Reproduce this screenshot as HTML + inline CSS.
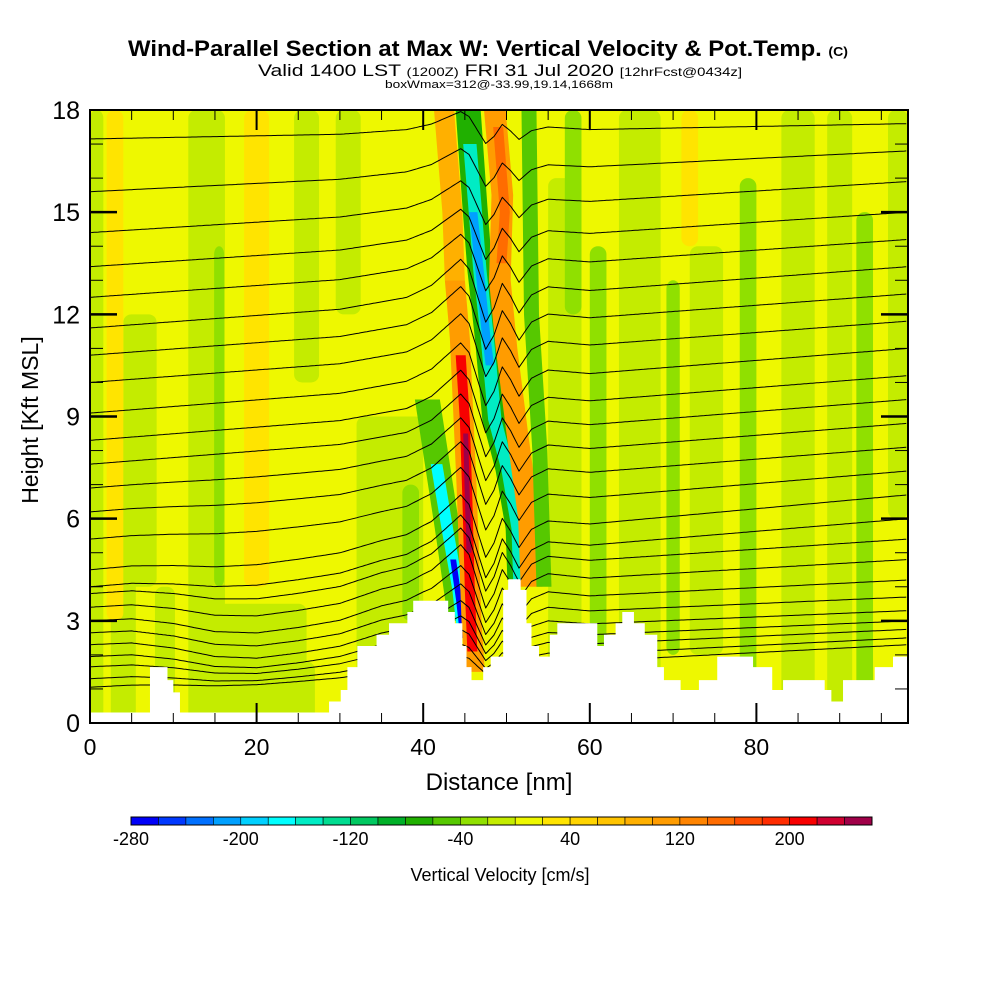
<!DOCTYPE html>
<html><head><meta charset="utf-8"><style>html,body{margin:0;padding:0;background:#fff}svg{display:block}text{font-family:"Liberation Sans",sans-serif}</style></head>
<body>
<svg id="chart" width="1000" height="1000" viewBox="0 0 1000 1000" xmlns="http://www.w3.org/2000/svg">
<defs><clipPath id="plotclip"><rect x="90" y="110" width="818" height="613"/></clipPath></defs>
<g>
<text x="488" y="56" text-anchor="middle" font-size="22" font-weight="bold" textLength="720" lengthAdjust="spacingAndGlyphs">Wind-Parallel Section at Max W: Vertical Velocity &amp; Pot.Temp. <tspan font-size="13">(C)</tspan></text>
<text x="500" y="76" text-anchor="middle" font-size="17" textLength="484" lengthAdjust="spacingAndGlyphs">Valid 1400 LST <tspan font-size="12">(1200Z)</tspan> FRI 31 Jul 2020 <tspan font-size="12">[12hrFcst@0434z]</tspan></text>
<text x="499" y="88" text-anchor="middle" font-size="11" textLength="228" lengthAdjust="spacingAndGlyphs">boxWmax=312@-33.99,19.14,1668m</text>
</g>
<g id="field" clip-path="url(#plotclip)"></g>
<g id="contours" clip-path="url(#plotclip)"></g>
<g id="terrain" clip-path="url(#plotclip)"></g>
<g id="axes"></g>
<text x="38" y="420" text-anchor="middle" font-size="23" transform="rotate(-90 38 420)">Height [Kft MSL]</text>
<text x="499" y="790" text-anchor="middle" font-size="24">Distance [nm]</text>
<g id="colorbar"></g>
<text x="500" y="881" text-anchor="middle" font-size="18">Vertical Velocity [cm/s]</text>
</svg>
<script>
// ---- data ----
const cbColors = ["#0000f8","#0038ff","#0070ff","#00a0ff","#00d0ff","#00ffff","#00ecc4","#00dc90","#00c860","#00b028","#20b000","#56c800","#90e000","#c4ec00","#eef800","#ffe400","#ffd400","#ffc400","#ffb000","#ff9c00","#ff8400","#ff6c00","#ff4c00","#ff2c00","#f80000","#d00030","#a00048"];
const cbTickValues = [-280,-200,-120,-40,40,120,200];
const backgroundW = 10;
// patches: nm center, half width nm, bottom kft, top kft, w
const patchCenter = [0.8,4,6,14,15.5,9,20,24,36,38.5,26,31,57,61,66,70,74,79,85,90,93,97,20,3,58,72];
const patchHalf =   [0.8,1.5,2,2.2,0.6,1.2,6,3,4,1.0,1.5,1.5,2,1.0,2.5,0.8,2,1.0,2,1.5,1.0,1.2,1.5,1,1,1];
const patchBottom = [0,0,4,0,4,0,0,0,0,3,10,12,0,0,0,2,2,0,0,0,0,6,4,3,12,14];
const patchTop =    [18,9,12,18,14,4,3.5,1.8,9,7,18,18,16,14,18,13,14,16,18,18,15,18,18,18,18,18];
const patchW =      [-10,-10,-10,-10,-30,-10,-10,-10,-10,-30,-10,-10,-10,-30,-10,-30,-10,-30,-10,-10,-30,-10,30,30,-30,30];
// core bands: each a list of centerline [nm,kft] points, half width, w
const bandW =    [-60,-80,-160,-210,80,-180,-280,100,200,260,100,150,80,-60];
const bandHalf = [1.5,1.5,0.8,0.5,1.2,0.7,0.35,1.2,0.6,0.3,1.3,0.6,0.9,0.9];
const bandPts = [
 [[40.5,9.5],[42.9,5.7],[44.5,3]],
 [[45.4,18],[46.2,15.2],[46.8,13.3],[47.7,11.3],[48.6,8.9],[50.2,7.4],[51.4,5.7],[51.6,4.2]],
 [[45.6,17],[46.2,15.2],[46.8,13.3],[47.7,11.3],[48.6,8.9],[50.2,7.4],[51.4,5.7],[51.6,4.2]],
 [[46.0,15],[46.9,13],[47.5,11.5],[48.0,10.5]],
 [[42.5,18],[43.5,15],[43.8,13]],
 [[41.6,7.6],[42.9,5.7],[44.2,3.9],[44.7,2.8]],
 [[43.6,4.8],[44.3,3.6],[44.8,2.5]],
 [[43.8,13],[44.4,11.3],[45.2,7],[45.8,3],[46.2,1.5]],
 [[44.5,10.8],[45.0,8.9],[45.3,6.6],[45.6,3.9],[45.9,2.1]],
 [[45.1,8.5],[45.3,6.6],[45.5,5.0]],
 [[48.6,18],[49.5,15.5],[49.2,13],[50.0,11],[51.3,8.5],[52.7,6],[53.0,4]],
 [[49.0,17.5],[49.8,15],[49.4,13.5]],
 [[42.8,18],[43.6,15],[43.9,13]],
 [[52.7,18],[53,12],[54,8],[54.5,4]]
];
// terrain steps: start nm, height kft
const terrNm = [0,7.2,9.3,10.0,10.8,28.7,30.1,30.9,32.1,34.4,35.9,38.1,38.8,43.0,43.8,44.7,45.2,45.8,47.2,48.1,49.6,50.2,51.7,52.4,53.0,53.9,55.2,56.1,60.9,61.7,63.1,63.9,65.3,66.6,68.1,68.9,70.9,73.1,75.3,79.6,81.9,83.2,88.2,89.0,90.4,94.2,96.4];
const terrH  = [0.31,1.64,1.26,0.9,0.31,0.63,0.97,1.64,2.26,2.59,2.93,3.26,3.59,3.26,2.93,2.26,1.64,1.26,1.64,1.95,3.91,4.22,3.91,2.93,2.26,1.95,2.59,2.93,2.26,2.59,2.93,3.26,2.93,2.59,1.64,1.26,0.97,1.26,1.95,1.64,0.97,1.26,0.97,0.63,1.26,1.64,1.95];
// isentropes
const lineLeft  = [1.05,1.3,1.65,1.95,2.3,2.65,3.0,3.4,3.8,4.0,4.5,5.4,6.2,6.9,7.6,8.3,9.1,10.0,10.8,11.6,12.5,13.4,14.4,15.6,17.15];
const lineRight = [2.3,2.5,2.75,3.0,3.3,3.7,4.2,4.8,5.4,6.0,6.7,7.4,8.1,8.8,9.5,10.2,11.0,11.8,12.6,13.4,14.2,15.0,15.9,16.8,17.6];
const lineDip   = [0.3,0.5,0.7,0.9,1.0,1.0,1.0,0.9,0.8,0.6,0.5,0.3,0.2,0.1,0,0,0,0,0,0,0,0,0,0,0];
const lineWave  = [0.3,0.4,0.5,0.6,0.7,0.8,0.9,1,1,1,1,1,1,1,1,1,1,1,1,1,0.9,0.8,0.7,0.6,0.5];
const dipNm = [0,5,10,15,20,25,30,35,40,98];
const dipKft = [0,0,-0.2,-0.5,-0.6,-0.5,-0.35,-0.1,0,0];
const waveNm = [0,30,38,41,43,44.5,45.5,46.5,47.5,48.5,49.5,50.5,51.5,53,55,60,98];
const waveKft = [0,0,0.2,0.5,0.9,1.2,0.9,0.1,-0.7,-0.3,0.4,0,-0.5,0,0.2,0,0];
const xTicks = [0,20,40,60,80];
const yTicks = [0,3,6,9,12,15,18];

// ---- scales ----
const NS="http://www.w3.org/2000/svg";
const X0=90,X1=908,Y0=723,Y1=110,XMAX=98.2,YMAX=18;
const sx=n=>X0+n/XMAX*(X1-X0);
const sy=k=>Y0-k/YMAX*(Y0-Y1);
const colorOf=w=>{let i=Math.floor((w+280)/20);i=Math.max(0,Math.min(cbColors.length-1,i));return cbColors[i];};
function mk(tag,attrs,parent){const e=document.createElementNS(NS,tag);for(const k in attrs)e.setAttribute(k,attrs[k]);parent.appendChild(e);return e;}
function interp(xs,ys,x){if(x<=xs[0])return ys[0];for(let i=1;i<xs.length;i++){if(x<=xs[i]){const t=(x-xs[i-1])/(xs[i]-xs[i-1]);return ys[i-1]+t*(ys[i]-ys[i-1]);}}return ys[ys.length-1];}

// field
const field=document.getElementById('field');
const bg=mk('rect',{x:X0,y:Y1,width:X1-X0,height:Y0-Y1,fill:colorOf(backgroundW)},field);


patchCenter.forEach((c,i)=>{
  const r=mk('rect',{x:sx(c-patchHalf[i]),y:sy(patchTop[i]),width:sx(patchHalf[i]*2)-X0,height:sy(patchBottom[i])-sy(patchTop[i]),rx:8,fill:colorOf(patchW[i])},field);
  
  
});
bandPts.forEach((pts,i)=>{
  const h=bandHalf[i];
  const left=pts.map(p=>[sx(p[0]-h),sy(p[1])]);
  const right=pts.slice().reverse().map(p=>[sx(p[0]+h),sy(p[1])]);
  const all=left.concat(right);
  const p=mk('polygon',{points:all.map(a=>a.join(',')).join(' '),fill:colorOf(bandW[i]),'stroke-linejoin':'round'},field);
  
  
});
// contours
const cg=document.getElementById('contours');
lineLeft.forEach((b,i)=>{
  let d='';
  for(let n=0;n<=XMAX+0.01;n+=0.25){
    const k=b+(lineRight[i]-b)*n/XMAX+lineDip[i]*interp(dipNm,dipKft,n)+lineWave[i]*interp(waveNm,waveKft,n);
    d+=(n===0?'M':'L')+sx(n).toFixed(1)+','+sy(k).toFixed(1);
  }
  const p=mk('path',{d:d,fill:'none',stroke:'#000','stroke-width':1,'stroke-linejoin':'round'},cg);
  
  
});
// terrain
const tg=document.getElementById('terrain');
let tp=[[sx(0),Y0+2]];
terrNm.forEach((n,i)=>{const e=i<terrNm.length-1?terrNm[i+1]:XMAX+1;tp.push([sx(n),sy(terrH[i])]);tp.push([sx(e),sy(terrH[i])]);});
tp.push([sx(XMAX+1),Y0+2]);
const tpoly=mk('polygon',{points:tp.map(a=>a.join(',')).join(' '),fill:'#fff'},tg);


// axes
const ax=document.getElementById('axes');
const frame=mk('rect',{x:X0,y:Y1,width:X1-X0,height:Y0-Y1,fill:'none',stroke:'#000','stroke-width':2},ax);


for(let n=5;n<XMAX;n+=5){
  const major=n%20===0;const L=major?20:10;
  mk('line',{x1:sx(n),x2:sx(n),y1:Y0,y2:Y0-L,stroke:'#000','stroke-width':major?2:1},ax);
  mk('line',{x1:sx(n),x2:sx(n),y1:Y1,y2:Y1+L,stroke:'#000','stroke-width':major?2:1},ax);
}
for(let k=1;k<YMAX;k++){
  const major=k%3===0;const L=major?27:13;
  mk('line',{x1:X0,x2:X0+L,y1:sy(k),y2:sy(k),stroke:'#000','stroke-width':major?2.5:1},ax);
  mk('line',{x1:X1,x2:X1-L,y1:sy(k),y2:sy(k),stroke:'#000','stroke-width':major?2.5:1},ax);
}
xTicks.forEach(v=>{
  const t=mk('text',{x:sx(v),y:755,'text-anchor':'middle','font-size':23},ax);t.textContent=v;
  
  
});
yTicks.forEach(v=>{
  const t=mk('text',{x:80,y:sy(v)+9,'text-anchor':'end','font-size':25},ax);t.textContent=v;
  
  
});
// colorbar
const cb=document.getElementById('colorbar');
const CB0=131,CBW=(872-131)/cbColors.length,CBY=817,CBH=8;
cbColors.forEach((c,i)=>{
  const r=mk('rect',{x:CB0+i*CBW,y:CBY,width:CBW,height:CBH,fill:c,stroke:'#000','stroke-width':0.6},cb);
  
  
});
mk('rect',{x:CB0,y:CBY,width:872-131,height:CBH,fill:'none',stroke:'#000','stroke-width':1},cb);
cbTickValues.forEach(v=>{
  const t=mk('text',{x:CB0+(v+280)/20*CBW,y:845,'text-anchor':'middle','font-size':18},cb);t.textContent=v;
  
  
});
</script>
</body></html>
